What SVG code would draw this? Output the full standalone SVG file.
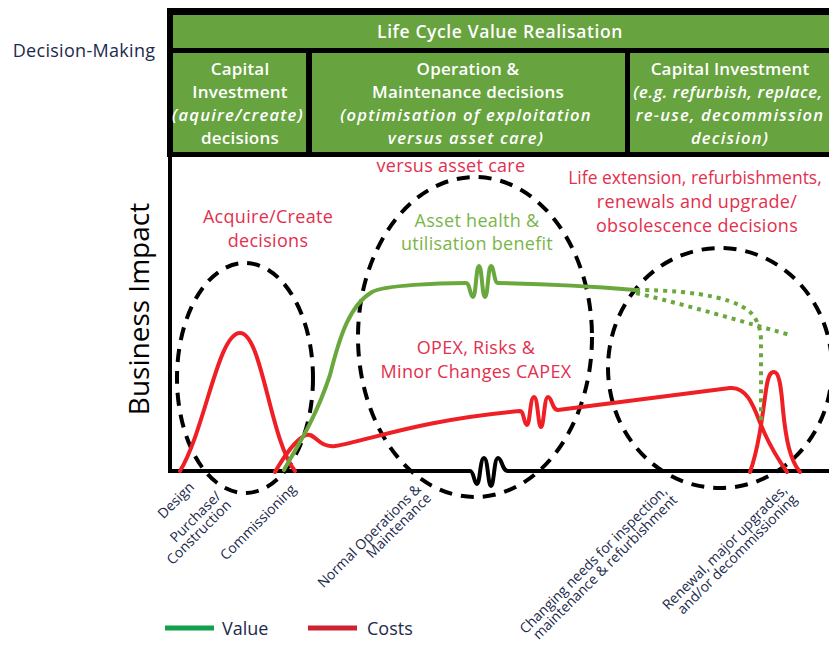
<svg xmlns="http://www.w3.org/2000/svg" width="829" height="650" viewBox="0 0 829 650">
<style>
.hd{font-family:"Open Sans","Noto Sans",sans-serif;font-weight:600;fill:#fff;font-size:17px;letter-spacing:0.2px;text-anchor:middle}
.it{font-style:italic;font-size:16.6px;letter-spacing:1.2px}
.rt{font-family:"Open Sans","Noto Sans",sans-serif;fill:#e2304e;font-size:18px;letter-spacing:0.3px;text-anchor:middle}
.gt{font-family:"Open Sans","Noto Sans",sans-serif;fill:#7ab548;font-size:18px;letter-spacing:0.3px;text-anchor:middle}
.lb{font-family:"Open Sans","Noto Sans",sans-serif;fill:#1c2a4c;font-size:14px;text-anchor:end}
.dash{fill:none;stroke:#000;stroke-width:4;stroke-dasharray:13 9}
.red{fill:none;stroke:#ee1f25;stroke-width:4;stroke-linejoin:round;stroke-linecap:round}
.grn{fill:none;stroke:#6aa83e;stroke-width:4;stroke-linejoin:round;stroke-linecap:round}
.dot{fill:none;stroke:#6aa83e;stroke-width:4;stroke-dasharray:4 5}
</style>
<rect width="829" height="650" fill="#fff"/>
<text x="84" y="57" font-family="Open Sans,Noto Sans,sans-serif" font-size="18" letter-spacing="0.3" fill="#1c2a4c" text-anchor="middle">Decision-Making</text>
<g id="header">
<rect x="167" y="8" width="662" height="149" fill="#000"/>
<rect x="173" y="15" width="656" height="33" fill="#67a33f"/>
<rect x="173" y="53" width="133" height="99" fill="#67a33f"/>
<rect x="312" y="53" width="313" height="99" fill="#67a33f"/>
<rect x="630" y="53" width="199" height="99" fill="#67a33f"/>
<text class="hd" x="500" y="38" style="font-size:17.5px;letter-spacing:0.6px">Life Cycle Value Realisation</text>
<text class="hd" x="240" y="75">Capital</text>
<text class="hd" x="240" y="98">Investment</text>
<text class="hd it" x="238" y="121">(aquire/create)</text>
<text class="hd" x="240" y="144">decisions</text>
<text class="hd" x="468" y="75">Operation &amp;</text>
<text class="hd" x="468" y="98">Maintenance decisions</text>
<text class="hd it" x="466" y="121">(optimisation of exploitation</text>
<text class="hd it" x="466" y="144">versus asset care)</text>
<text class="hd" x="730" y="75">Capital Investment</text>
<text class="hd it" x="728" y="98" style="letter-spacing:0.6px">(e.g. refurbish, replace,</text>
<text class="hd it" x="730" y="121">re-use, decommission</text>
<text class="hd it" x="730" y="144">decision)</text>
</g>
<g id="axes">
<path d="M170,155 V473" stroke="#000" stroke-width="4" fill="none"/>
<path d="M168,471 L470,471 C474,471 474,484 477,484 C480,484 480,458 484,458 C488,458 488,486 491,486 C494,486 494,458 498,458 C502,458 502,471 508,471 L829,471" stroke="#000" stroke-width="4" fill="none" stroke-linejoin="round"/>
<text x="149" y="309" transform="rotate(-90 149 309)" font-family="Open Sans,Noto Sans,sans-serif" font-size="28" fill="#000" text-anchor="middle">Business Impact</text>
</g>
<g id="phases">
<ellipse class="dash" cx="245" cy="378" rx="68" ry="115"/>
<ellipse class="dash" cx="475" cy="337" rx="117" ry="160"/>
<ellipse class="dash" cx="720" cy="368" rx="112" ry="120"/>
</g>
<g id="curves">
<path class="red" d="M180,471 C205,430 218,333 240,333 C262,333 270,440 295,471"/>
<path class="red" d="M275,472 C285,455 295,440 306,435 C315,432 318,448 335,446 C370,440 420,420 520,411 C524,411 524,425 527,425 C530,425 530,397 534,397 C538,397 538,427 541,427 C544,427 544,397 548,397 C552,397 552,410 558,410 L730,388 C750,386 756,415 764,432 C772,450 780,462 787,472"/>
<path class="red" d="M750,472 C758,450 762,420 766,390 C768,376 770,372 774,372 C779,372 781,385 783,410 C786,440 790,460 800,472"/>
<path class="grn" d="M284,470 C298,445 315,420 330,375 C340,335 350,305 372,292 C385,285 440,283 466,283 C470,283 470,297 473,297 C476,297 476,266 479,266 C482,266 482,297 485,297 C488,297 488,266 491,266 C494,266 494,283 498,283 C560,284 600,287 635,290"/>
<path class="dot" d="M636,290 C700,290 745,300 755,318 C762,330 761,340 761,350 L761,422"/>
<path class="dot" d="M636,293 C690,306 730,318 790,335"/>
</g>
<g id="annotations">
<text class="rt" x="451" y="172">versus asset care</text>
<text class="rt" x="268" y="223">Acquire/Create</text>
<text class="rt" x="268" y="247">decisions</text>
<text class="gt" x="477" y="227">Asset health &amp;</text>
<text class="gt" x="477" y="250">utilisation benefit</text>
<text class="rt" x="695" y="184" style="font-size:17.5px;letter-spacing:0">Life extension, refurbishments,</text>
<text class="rt" x="697" y="208">renewals and upgrade/</text>
<text class="rt" x="697" y="232">obsolescence decisions</text>
<text class="rt" x="476" y="354">OPEX, Risks &amp;</text>
<text class="rt" x="476" y="378">Minor Changes CAPEX</text>
</g>
<g id="labels">
<text class="lb" transform="translate(195,488) rotate(-45)">Design</text>
<text class="lb" transform="translate(222,497) rotate(-45)">Purchase/</text>
<text class="lb" transform="translate(232,506) rotate(-45)">Construction</text>
<text class="lb" transform="translate(297,490) rotate(-45)">Commissioning</text>
<text class="lb" transform="translate(422,490) rotate(-45)">Normal Operations &amp;</text>
<text class="lb" transform="translate(432,499) rotate(-45)">Maintenance</text>
<text class="lb" transform="translate(668,492) rotate(-45)">Changing needs for inspection,</text>
<text class="lb" transform="translate(678,501) rotate(-45)">maintenance &amp; refurbishment</text>
<text class="lb" transform="translate(788,491) rotate(-45)">Renewal, major upgrades,</text>
<text class="lb" transform="translate(798,500) rotate(-45)">and/or decommissioning</text>
</g>
<g id="legend">
<path d="M165,628 H214" stroke="#12a04c" stroke-width="5"/>
<text x="222" y="635" font-family="Open Sans,Noto Sans,sans-serif" font-size="18" fill="#1c2a4c">Value</text>
<path d="M308,628 H357" stroke="#cc2232" stroke-width="5"/>
<text x="367" y="635" font-family="Open Sans,Noto Sans,sans-serif" font-size="18" fill="#1c2a4c">Costs</text>
</g>
</svg>
